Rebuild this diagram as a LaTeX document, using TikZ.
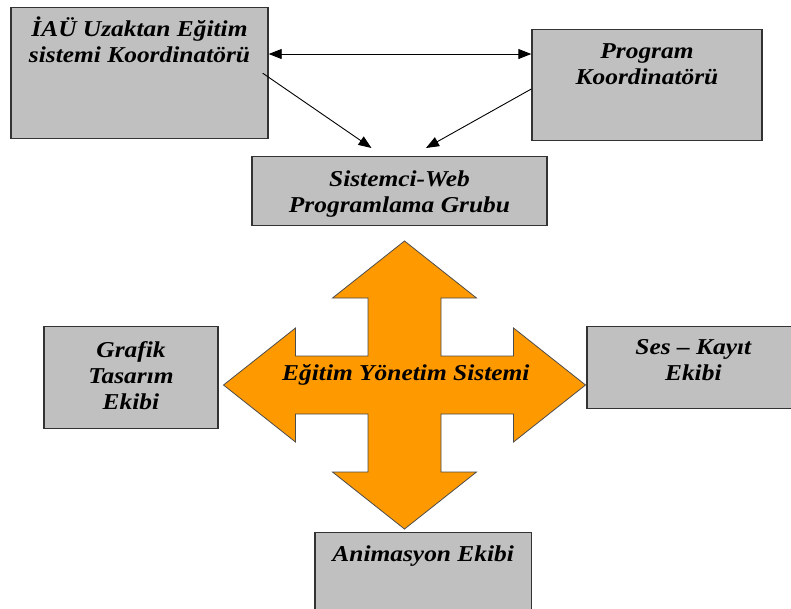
\documentclass[tikz,border=0pt]{standalone}
\usepackage{fontspec}
\setmainfont{Liberation Serif}
\newfontfamily\boxfont{Liberation Serif}[FakeStretch=1.12]
\usepackage{xcolor}
\usepackage{tikz}
\usetikzlibrary{positioning,arrows.meta,calc}
\definecolor{boxgray}{HTML}{C0C0C0}
\definecolor{eysorange}{HTML}{FF9900}

\begin{document}
\begin{tikzpicture}[
  x=1pt, y=-1pt,
  box/.style={draw=black!80, fill=boxgray, line width=1.4pt, inner sep=0pt,
              anchor=north, align=center,
              font=\boxfont\fontsize{22.7}{26}\selectfont\bfseries\itshape},
  link/.style={-{Triangle[length=13pt,width=10pt]}, line width=0.9pt},
  cross/.style={draw=black!70, fill=eysorange, line width=0.8pt, line join=miter}
]
\useasboundingbox (0,0) rectangle (791,608);
\clip (0,0) rectangle (791,608);

% top row
\node[box, minimum width=257pt, text height=54.7pt, text depth=76.3pt] (iau) at (139.5,7)
   {İAÜ Uzaktan Eğitim\\sistemi Koordinatörü};
\node[box, minimum width=230pt, text height=54.3pt, text depth=56.7pt] (prog) at (647,29)
   {Program\\Koordinatörü};
\node[box, minimum width=295pt, text height=55.7pt, text depth=13.3pt] (sist) at (399.5,156)
   {Sistemci-Web\\Programlama Grubu};

% the four-way arrow
\coordinate (hub) at (404.5,385);
\begin{scope}[shift={(hub)}]
\draw[cross] (0,-144) -- (72,-87) -- (36.5,-87) -- (36.5,-29) -- (109,-29) -- (109,-57)
  -- (181,0) -- (109,57) -- (109,29) -- (36.5,29) -- (36.5,87) -- (72,87)
  -- (0,144) -- (-72,87) -- (-36.5,87) -- (-36.5,29) -- (-109,29) -- (-109,57)
  -- (-181,0) -- (-109,-57) -- (-109,-29) -- (-36.5,-29) -- (-36.5,-87) -- (-72,-87) -- cycle;
\end{scope}
\node[font=\boxfont\fontsize{22.7}{26}\selectfont\bfseries\itshape, inner sep=0pt, anchor=base]
   (eys) at (405.8,380) {Eğitim Yönetim Sistemi};

% teams
\node[box, minimum width=174pt, text height=82.3pt, text depth=19.7pt] (graf) at (131,326)
   {Grafik\\Tasarım\\Ekibi};
\node[box, minimum width=213pt, text height=54pt, text depth=28pt] (ses) at (693.3,326)
   {Ses – Kayıt\\Ekibi};
\node[box, minimum width=216.5pt, text height=29pt, text depth=60pt] (anim) at (423.2,532)
   {Animasyon Ekibi};

% connectors
\draw[link, {Triangle[length=13pt,width=10pt]}-{Triangle[length=13pt,width=10pt]}]
   (iau.east |- 0,54) -- (prog.west |- 0,54);
\draw[link] ([xshift=-6pt]iau.east) -- ([shift={(-28,-8)}]sist.north);
\draw[link] ([shift={(0,3.8)}]prog.west) -- ([shift={(26.5,-8)}]sist.north);
\end{tikzpicture}
\end{document}
